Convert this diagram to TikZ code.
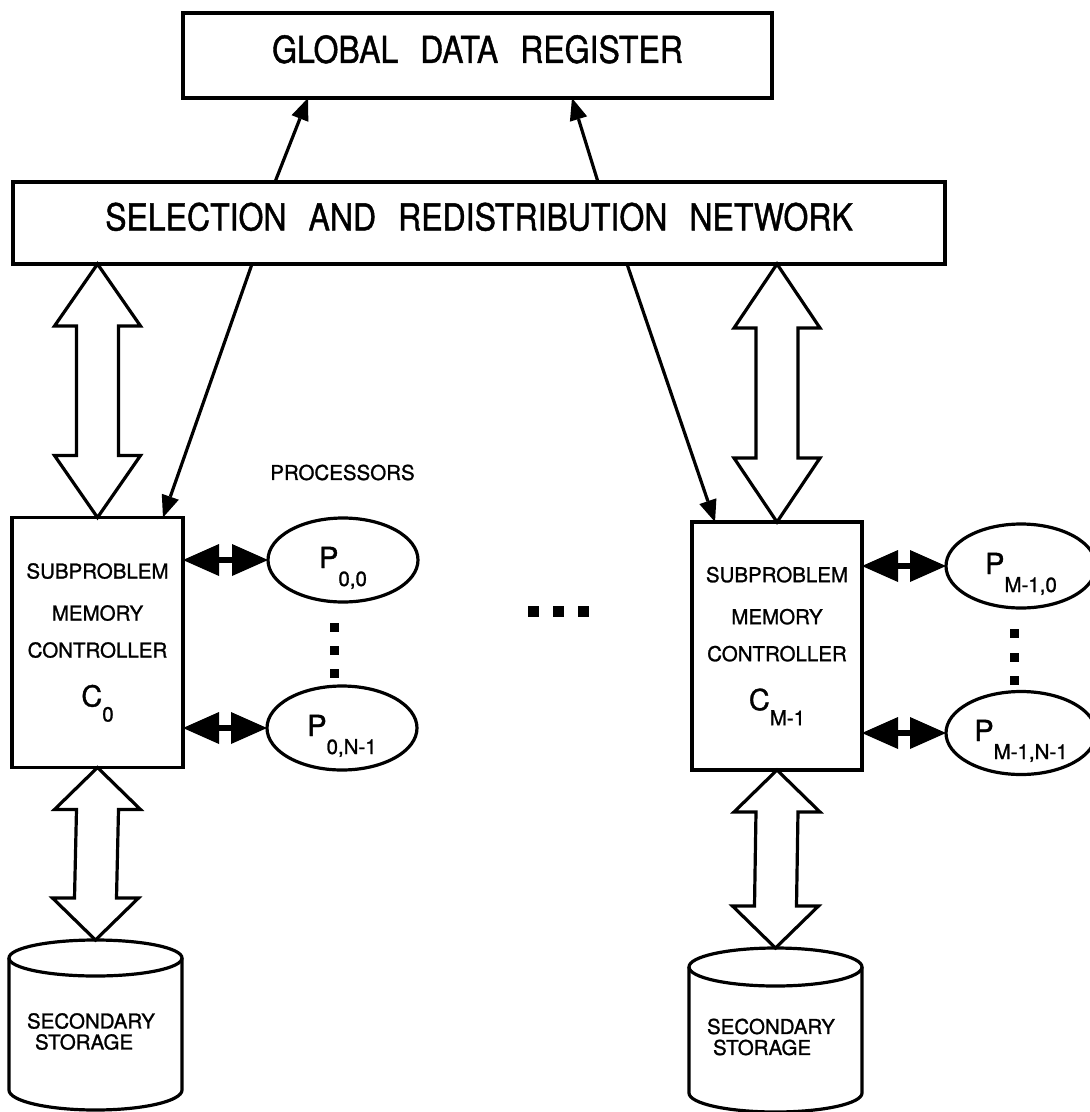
\documentclass[tikz,border=0pt]{standalone}
\usepackage{fontspec}
\setmainfont{TeX Gyre Heros}[FakeBold=1.2]
\usetikzlibrary{arrows.meta,calc,shapes.geometric}

% type sizes
\newcommand\bigtxt{\fontsize{32}{32}\selectfont}
\newcommand\midtxt{\fontsize{20.5}{20.5}\selectfont}
\newcommand\ptxt{\fontsize{29}{29}\selectfont}
\newcommand\tallcaps[1]{\scalebox{1}[1.16]{#1}}
\newcommand\wgap{\hspace{22pt}}
% processor label: big P with a lowered index
\newcommand\plabel[1]{\rule{0pt}{37pt}{\ptxt P}\raisebox{-18pt}{\midtxt #1}}

% hollow two-headed bus arrow between two vertically aligned points
\newcommand\fatarrow[3]{%
  \draw[fatarrow] (#1) -- ($(#1)+(43,#3)$) -- ($(#1)+(21,#3)$)
    -- ($(#2)+(21,-#3)$) -- ($(#2)+(43,-#3)$) -- (#2)
    -- ($(#2)+(-43,-#3)$) -- ($(#2)+(-21,-#3)$)
    -- ($(#1)+(-21,#3)$) -- ($(#1)+(-43,#3)$) -- cycle;}

% disk outline around a node: top ellipse, sides, lower front arc
\newcommand\diskoutline[3]{%
  \draw[cyl] (#1.north) ellipse[x radius=86.5pt, y radius=#2pt];
  \draw[cyl] (#1.north west) -- (#1.south west)
    arc[start angle=180, end angle=360, x radius=86.5pt, y radius=#3pt]
    -- (#1.north east);}

\tikzset{
  every node/.style={inner sep=0pt, outer sep=0pt},
  box/.style={draw, rectangle, line width=3.2pt},
  ctrl/.style={box, minimum width=171pt, minimum height=250pt,
    align=center, font=\fontsize{20.5}{38}\selectfont},
  proc/.style={draw, ellipse, line width=3.2pt,
    minimum width=150pt, minimum height=84pt},
  thinarrow/.style={line width=3.2pt,
    -{Triangle[length=22pt, width=18pt, line width=0pt]}},
  biarrow/.style={line width=5.5pt,
    {Triangle[length=36pt, width=32pt, line width=0pt]}-{Triangle[length=36pt, width=32pt, line width=0pt]}},
  fatarrow/.style={draw, fill=white, line width=3.2pt, line join=miter},
  cyl/.style={line width=3.2pt},
  disk/.style={rectangle, minimum width=173pt},
  disktext/.style={align=left, font=\fontsize{20.5}{21}\selectfont},
}

\begin{document}
\begin{tikzpicture}[x=1pt, y=-1pt]
\useasboundingbox (0,0) rectangle (1090,1112);

% global register and network
\node[box, minimum width=589pt, minimum height=85pt] (gdr) at (477.5,55.5)
  {\bigtxt\tallcaps{GLOBAL\wgap DATA\wgap REGISTER}\rule[-13pt]{0pt}{13pt}};
\node[box, minimum width=932pt, minimum height=82pt] (srn) at (479,223)
  {\bigtxt\tallcaps{SELECTION\wgap AND\wgap REDISTRIBUTION\wgap NETWORK}\rule[-13pt]{0pt}{13pt}};

% memory controllers
\node[ctrl] (ctrl0) at (97.5,642.5)
  {SUBPROBLEM\\[4pt]MEMORY\\[-1pt]CONTROLLER\\[11pt]{\ptxt C}\raisebox{-15pt}{0}};
\node[ctrl, minimum width=170pt, minimum height=248pt] (ctrl1) at (777,646)
  {SUBPROBLEM\\[4pt]MEMORY\\[-1pt]CONTROLLER\\[11pt]{\ptxt C}\raisebox{-15pt}{M-1}};

\node[font=\midtxt] (proclbl) at (342.5,472.5) {PROCESSORS};

% processors
\node[proc] (p00) at (343,560) {\plabel{0,0}};
\node[proc] (p0n) at (342,728) {\plabel{0,N-1}};
\node[proc] (pm0) at (1021,566) {\plabel{M-1,0}};
\node[proc, minimum height=83pt] (pmn) at (1021,733) {\plabel{M-1,N-1}};

% secondary storage
\node[disk, minimum height=132pt] (st0) at (95.5,1024) {};
\node[disk, minimum height=126pt] (st1) at (775.5,1030) {};
\diskoutline{st0}{18}{20}
\diskoutline{st1}{19}{19}
\node[disktext] (st0txt) at ([xshift=-4.5pt, yshift=-7.5pt]st0.center)
  {SECONDARY\\\hspace*{8pt}STORAGE};
\node[disktext] (st1txt) at ([xshift=-4.5pt, yshift=-7pt]st1.center)
  {SECONDARY\\\hspace*{6pt}STORAGE};
\coordinate (s0top) at ([yshift=18pt]st0.north);
\coordinate (s1top) at ([yshift=19pt]st1.north);

% network to register
\draw[thinarrow] ([xshift=-204pt]srn.north) -- ([xshift=-169.5pt]gdr.south);
\draw[thinarrow] ([xshift=119pt]srn.north) -- ([xshift=94.5pt]gdr.south);

% network to controllers
\draw[thinarrow] ([xshift=-227pt]srn.south) -- ([xshift=65.5pt]ctrl0.north);
\draw[thinarrow] ([xshift=148pt]srn.south) -- ([xshift=-62pt]ctrl1.north);

% bus arrows
\coordinate (t0) at (srn.south -| ctrl0.north);
\coordinate (t1) at (srn.south -| ctrl1.north);
\fatarrow{t0}{ctrl0.north}{62}
\fatarrow{t1}{ctrl1.north}{64}
\fatarrow{ctrl0.south}{s0top}{42}
\fatarrow{ctrl1.south}{s1top}{42}

% controller to processor links
\draw[biarrow] (ctrl0.east |- p00.west) -- (p00.west);
\draw[biarrow] (ctrl0.east |- p0n.west) -- (p0n.west);
\draw[biarrow] (ctrl1.east |- pm0.west) -- (pm0.west);
\draw[biarrow] (ctrl1.east |- pmn.west) -- (pmn.west);

% vertical ellipses between processors
\foreach \d in {25,48,71}
  \fill ($(p00.south)+(-13.5,\d-4.5)$) rectangle ++(9,9);
\foreach \d in {25,49,72}
  \fill ($(pm0.south)+(-11.5,\d-4.5)$) rectangle ++(9,9);

% horizontal ellipsis between the clusters
\foreach \x in {533,558,583}
  \fill (\x-5.5,605.5) rectangle ++(11,11);
\end{tikzpicture}
\end{document}
